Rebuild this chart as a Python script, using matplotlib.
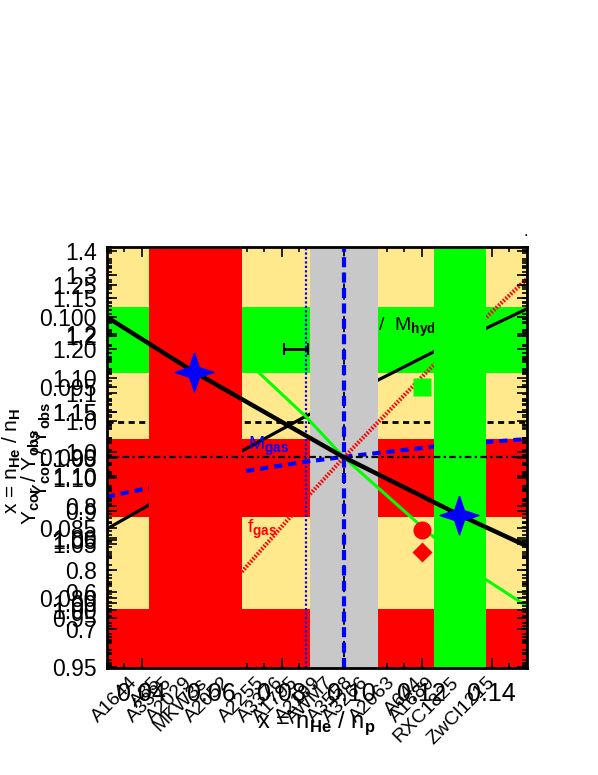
import numpy as np
import matplotlib.pyplot as plt
from matplotlib.path import Path
from matplotlib.ticker import MultipleLocator, FormatStrFormatter

plt.rcParams['font.family'] = ['Liberation Sans', 'DejaVu Sans']
plt.rcParams['mathtext.fontset'] = 'custom'
plt.rcParams['mathtext.rm'] = 'Liberation Sans'
plt.rcParams['mathtext.bf'] = 'Liberation Sans:bold'

# axis ranges
x_range = (0.03, 0.15)
y_range = (0.075, 0.105)

# background: horizontal bands, then vertical bands on top
row_edges = [0.105, 0.10073, 0.09603, 0.09132, 0.08574, 0.07922, 0.075]
row_colors = ['#ffe98c', '#00ff00', '#ffe98c', '#ff0000', '#ffe98c', '#ff0000']
red_col = (0.04219, 0.06864)
gray_col = (0.08799, 0.10756)
green_col = (0.12347, 0.13847)

# reference lines
y_dashed = 0.0925
y_dashdot = 0.0900
x_dotted = 0.08704
x_dashed = 0.09772

# thick black curve with the two stars
curve_x = [0.03, 0.0550, 0.0976, 0.1308, 0.15]
curve_y = [0.1000, 0.09608, 0.09004, 0.08591, 0.08370]
star_x = [0.0550, 0.1308]
star_y = [0.09608, 0.08591]

# M_hyd (rising black line)
hyd_x = [0.03, 0.04211, 0.06864, 0.08647, 0.10756, 0.12339, 0.13856, 0.15]
hyd_y = [0.08491, 0.08662, 0.09046, 0.09288, 0.09551, 0.09751, 0.09921, 0.10057]

# M_gas (blue dashed)
gas_x = [0.03, 0.04096, 0.06864, 0.08676, 0.09763, 0.12339, 0.13971, 0.15]
gas_y = [0.08721, 0.08777, 0.08899, 0.08970, 0.09004, 0.09077, 0.09112, 0.09131]

# f_gas (red dotted)
fgas_x = [0.06864, 0.08246, 0.08790, 0.09820, 0.12339, 0.13856, 0.15]
fgas_y = [0.08187, 0.08577, 0.08733, 0.09011, 0.09658, 0.10000, 0.10270]

# green line
gline_x = [0.07330, 0.08704, 0.09763, 0.12339, 0.13856, 0.15]
gline_y = [0.09608, 0.09288, 0.09004, 0.08434, 0.08128, 0.07943]

# single points
err_x, err_y, err_dx = 0.0842, 0.09772, 0.0034
circ_x, circ_y = 0.12015, 0.08484
diam_x, diam_y = 0.12015, 0.08330
sq_x, sq_y = 0.12015, 0.09502

# cluster names under the x axis
names = ['A1644', 'A85', 'A3395', 'A2029', 'MKW3s', 'A2052', 'A2255', 'A3376',
         'A1795', 'A2199', 'AWM7', 'A3558', 'A3266', 'A2063', 'A644', 'A1689',
         'RXC1825', 'ZwCl1215']
name_x = [0.0381, 0.0447, 0.0481, 0.0538, 0.0581, 0.0647, 0.0744, 0.0796,
          0.0839, 0.0905, 0.0939, 0.0996, 0.1039, 0.1117, 0.1197, 0.1231,
          0.1297, 0.1403]

# extra overlapping y axes (range, ticks, format)
extra_axes = [
    ((0.42, 1.41), [0.6, 0.8, 1.0, 1.2, 1.4], '%.1f'),
    ((0.949, 1.28), [0.95, 1.00, 1.05, 1.10, 1.15, 1.20, 1.25], '%.2f'),
    ((0.9187, 1.1819), [0.95, 1.00, 1.05, 1.10, 1.15], '%.2f'),
    ((0.956, 1.275), [1.00, 1.05, 1.10, 1.15], '%.2f'),
    ((0.634, 1.3475), [0.7, 0.8, 0.9, 1.0, 1.1, 1.2, 1.3], '%.1f'),
]

fig = plt.figure(figsize=(5.98, 7.75), dpi=100)
rect = [0.1784, 0.1377, 0.7023, 0.544]
ax = fig.add_axes(rect)
ax.set_xlim(*x_range)
ax.set_ylim(*y_range)

for i, c in enumerate(row_colors):
    ax.axhspan(row_edges[i + 1], row_edges[i], color=c, lw=0, zorder=0.5)

ax.axhline(y_dashed, color='black', lw=2, dashes=(2.2, 1.6), zorder=1)
ax.plot(hyd_x, hyd_y, color='black', lw=2.3, zorder=1)
ax.text(0.1075, 0.0993, '/  M$_{\\mathbf{hyd}}$', fontsize=14, va='center', zorder=1)

ax.axvspan(*gray_col, color='#c8c8c8', lw=0, zorder=2)

ax.plot(gas_x, gas_y, color='blue', lw=3, dashes=(2.0, 1.4), zorder=3)
ax.plot(fgas_x, fgas_y, color='red', lw=3, dashes=(0.4, 0.4), zorder=3)

ax.axvspan(*red_col, color='#ff0000', lw=0, zorder=4)
ax.axvspan(*green_col, color='#00ff00', lw=0, zorder=4)

ax.axhline(y_dashdot, color='black', lw=1.6, dashes=(3, 1.5, 1, 1.5), zorder=5)
ax.axvline(x_dotted, color='blue', lw=1.6, dashes=(1, 1), zorder=5)
ax.axvline(x_dashed, color='black', lw=1.3, dashes=(3, 3), zorder=5)
ax.axvline(x_dashed, color='blue', lw=3, dashes=(2.4, 1.3), zorder=5)

ax.plot(gline_x, gline_y, color='#00ff00', lw=2.2, zorder=6)
ax.plot(curve_x, curve_y, color='black', lw=3.2, zorder=6)

star = Path([(0, 1), (0.25, 0.25), (1, 0), (0.25, -0.25), (0, -1),
             (-0.25, -0.25), (-1, 0), (-0.25, 0.25), (0, 1)])
ax.plot(star_x, star_y, ls='none', marker=star, ms=28, color='blue', zorder=7)

ax.errorbar(err_x, err_y, xerr=err_dx, color='black', lw=2, capsize=4,
            capthick=1.5, zorder=6)
ax.plot(circ_x, circ_y, 'o', color='red', ms=13, mec='none', zorder=6)
ax.plot(diam_x, diam_y, 'D', color='red', ms=10, mec='none', zorder=6)
ax.plot(sq_x, sq_y, 's', color='#00ff00', ms=13, mec='none', zorder=6)

ax.text(0.0704, 0.0908, 'M$_{\\mathbf{gas}}$', color='blue', fontsize=14,
        va='center', zorder=7)
ax.text(0.0702, 0.0849, 'f$_{\\mathbf{gas}}$', color='red', fontsize=14,
        va='center', zorder=7)

for s in ax.spines.values():
    s.set_linewidth(2)
    s.set_zorder(10)
ax.xaxis.set_minor_locator(MultipleLocator(0.005))
ax.xaxis.set_major_formatter(FormatStrFormatter('%.2f'))
ax.set_xticks(np.arange(0.04, 0.141, 0.02))
ax.yaxis.set_minor_locator(MultipleLocator(0.001))
ax.yaxis.set_major_formatter(FormatStrFormatter('%.3f'))
ax.set_yticks(np.arange(0.080, 0.1001, 0.005))
ax.tick_params(which='both', direction='in', top=True, right=True, width=1.2)
ax.tick_params(which='major', length=7)
ax.tick_params(which='minor', length=3.5)
ax.tick_params(axis='x', labelsize=18, pad=10)
ax.tick_params(axis='y', labelsize=16.5, pad=7)

for lim, ticks, fmt in extra_axes:
    a = fig.add_axes(rect, frameon=False, zorder=5)
    a.patch.set_visible(False)
    a.xaxis.set_visible(False)
    a.set_ylim(*lim)
    a.set_yticks(ticks)
    a.yaxis.set_major_formatter(FormatStrFormatter(fmt))
    a.yaxis.set_minor_locator(MultipleLocator((ticks[1] - ticks[0]) / 5))
    a.tick_params(which='both', direction='in', left=True, right=True,
                  labelleft=True, width=1.2, labelsize=16.5, pad=7)
    a.tick_params(which='major', length=7)
    a.tick_params(which='minor', length=3.5)

trans = ax.get_xaxis_transform()
for nx, nm in zip(name_x, names):
    ax.text(nx, -0.028, nm, transform=trans, rotation=45, rotation_mode='anchor',
            ha='right', va='center', fontsize=14, clip_on=False)

ax.text(0.498, -0.13, 'x = n$_{\\mathbf{He}}$ / n$_{\\mathbf{p}}$', transform=ax.transAxes,
        ha='center', va='center', fontsize=17)

fig.text(0.020, 0.405, 'x = n$_{\\mathbf{He}}$ / n$_{\\mathbf{H}}$', rotation=90,
         ha='center', va='center', fontsize=15)
fig.text(0.052, 0.385, 'Y$_{\\mathbf{cor}}$ / Y$_{\\mathbf{obs}}$', rotation=90,
         ha='center', va='center', fontsize=15)
fig.text(0.070, 0.420, 'Y$_{\\mathbf{cor}}$ / Y$_{\\mathbf{obs}}$', rotation=90,
         ha='center', va='center', fontsize=15)
fig.text(0.876, 0.695, '.', fontsize=12)

fig.savefig('out.png', dpi=100)
